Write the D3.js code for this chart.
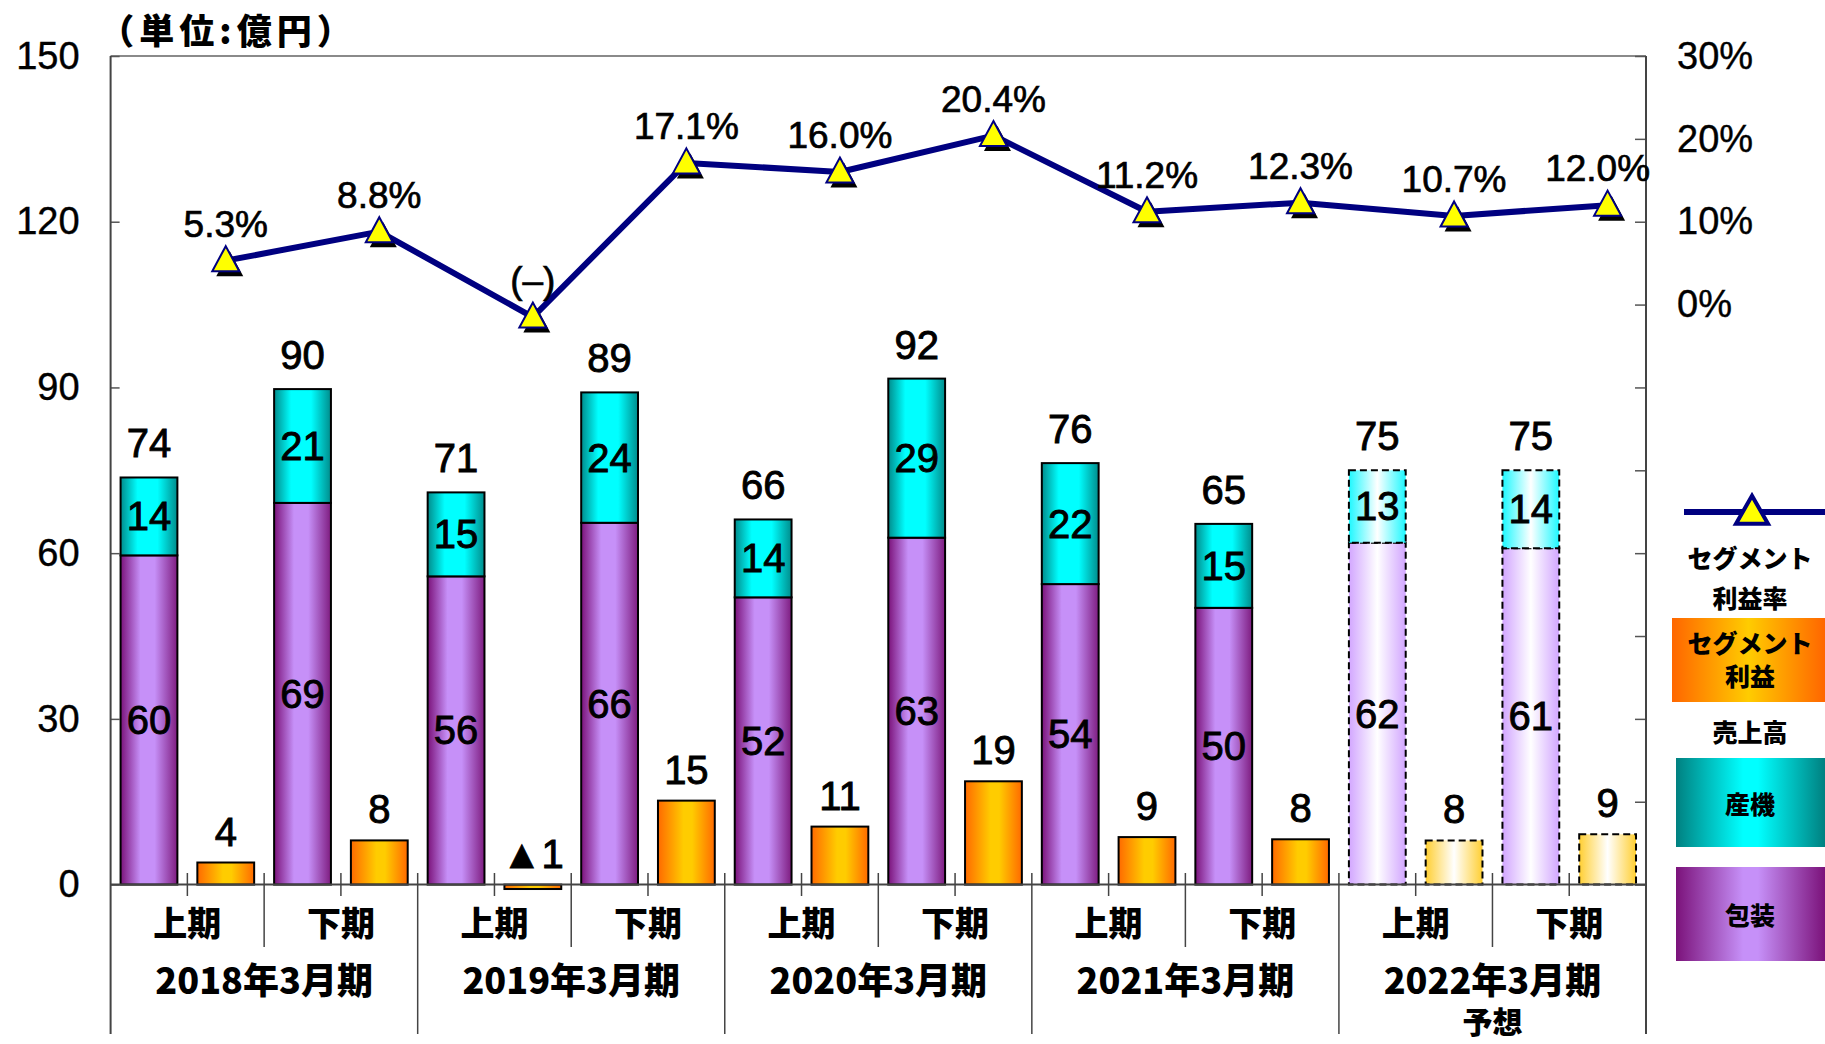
<!DOCTYPE html>
<html><head><meta charset="utf-8">
<script src="https://cdn.jsdelivr.net/npm/d3@7"></script>
<style>
html,body{margin:0;padding:0;background:#fff;}
svg{display:block;}
</style></head>
<body>
<script>
// ---- data ----
const halves = ["上期","下期","上期","下期","上期","下期","上期","下期","上期","下期"];
const years = ["2018年3月期","2019年3月期","2020年3月期","2021年3月期","2022年3月期"];
const yearNotes = ["","","","","予想"];
const packaging = [59.6, 69.1, 55.8, 65.5, 52.0, 62.8, 54.4, 50.1, 61.9, 60.9];   // 包装
const machinery = [14.1, 20.6, 15.2, 23.6, 14.1, 28.8, 21.9, 15.2, 13.1, 14.1];   // 産機
const profit = [4.0, 8.0, -0.8, 15.2, 10.5, 18.7, 8.6, 8.2, 8.0, 9.1];            // セグメント利益
const margin = [5.3, 8.8, -1.5, 17.1, 16.0, 20.4, 11.2, 12.3, 10.7, 12.0];        // セグメント利益率 (%)
const forecast = [false,false,false,false,false,false,false,false,true,true];
const leftTicks = [0,30,60,90,120,150];
const rightTicks = [-70,-60,-50,-40,-30,-20,-10,0,10,20,30];
const rightLabels = [0,10,20,30];

const W = 1825, H = 1044;
const NUM = "'Liberation Sans', Arial, sans-serif";
const JP = "'Noto Sans CJK JP', 'Liberation Sans', sans-serif";

const svg = d3.select("body").append("svg").attr("width", W).attr("height", H);
const defs = svg.append("defs");
function grad(id, stops){
  const g = defs.append("linearGradient").attr("id", id).attr("x1","0").attr("x2","1").attr("y1","0").attr("y2","0");
  stops.forEach(s => g.append("stop").attr("offset", s[0]).attr("stop-color", s[1]));
}
grad("gPurple", [["0%","#7b127a"],["35%","#c690f8"],["60%","#c690f8"],["100%","#7e1c80"]]);
grad("gTeal", [["0%","#008c8c"],["30%","#00ffff"],["65%","#00ffff"],["100%","#008c8c"]]);
grad("gOrange", [["0%","#ff6a00"],["45%","#ffcc00"],["60%","#ffcc00"],["100%","#ff6a00"]]);
grad("gPurpleF", [["0%","#d2a6ff"],["50%","#ffffff"],["100%","#d2a6ff"]]);
grad("gTealF", [["0%","#1ef8ff"],["50%","#ffffff"],["100%","#1ef8ff"]]);
grad("gOrangeF", [["0%","#ffcf33"],["50%","#ffffff"],["100%","#ffcf33"]]);
grad("gPurpleL", [["0%","#7b127a"],["45%","#c690f8"],["55%","#c690f8"],["100%","#7b127a"]]);
grad("gTealL", [["0%","#008080"],["45%","#00ffff"],["55%","#00ffff"],["100%","#008080"]]);
grad("gOrangeL", [["0%","#ff6600"],["50%","#ffcc00"],["100%","#ff6600"]]);

// ---- scales ----
const plotL = 110.6, plotR = 1646, plotT = 56, plotB = 884.6, catB = 1034;
const slots = [];
halves.forEach((h,i) => { slots.push(i+"s"); slots.push(i+"p"); });
const x = d3.scaleBand().domain(slots).range([plotL, plotR]).paddingInner(0.26).paddingOuter(0.13);
const y = d3.scaleLinear().domain([0,150]).range([plotB, plotT]);
const yR = d3.scaleLinear().domain([-70,30]).range([plotB, plotT]);

// ---- frame ----
svg.append("line").attr("x1", plotL).attr("x2", plotR).attr("y1", plotT).attr("y2", plotT)
  .attr("stroke", "#8a8a8a").attr("stroke-width", 2);

const axL = d3.axisLeft(y).tickValues(leftTicks).tickSizeInner(-9).tickSizeOuter(0).tickPadding(31);
const gL = svg.append("g").attr("transform", `translate(${plotL},0)`).call(axL);
gL.select(".domain").remove();
gL.selectAll(".tick line").attr("stroke", "#555").attr("stroke-width", 1.5);
gL.selectAll(".tick text").attr("font-family", NUM).attr("font-size", 38).attr("fill", "#000")
  .attr("stroke", "#000").attr("stroke-width", 0.4);

const axR = d3.axisRight(yR).tickValues(rightTicks).tickSizeInner(-11).tickSizeOuter(0).tickPadding(31)
  .tickFormat(d => rightLabels.includes(d) ? d + "%" : "");
const gR = svg.append("g").attr("transform", `translate(${plotR},0)`).call(axR);
gR.select(".domain").remove();
gR.selectAll(".tick line").attr("stroke", "#555").attr("stroke-width", 1.5);
gR.selectAll(".tick text").attr("font-family", NUM).attr("font-size", 38).attr("fill", "#000")
  .attr("stroke", "#000").attr("stroke-width", 0.4);

// vertical axis lines (extend through category area)
[plotL, plotR].forEach(xx => svg.append("line").attr("x1", xx).attr("x2", xx).attr("y1", plotT).attr("y2", catB)
  .attr("stroke", "#444").attr("stroke-width", 2));

// ---- bars ----
const bars = svg.append("g");
halves.forEach((h,i) => {
  const f = forecast[i];
  const xs = x(i+"s"), xp = x(i+"p"), bw = x.bandwidth();
  const dash = f ? "7,4" : null;
  bars.append("rect").attr("x", xs).attr("width", bw)
    .attr("y", y(packaging[i])).attr("height", y(0) - y(packaging[i]))
    .attr("fill", f ? "url(#gPurpleF)" : "url(#gPurple)").attr("stroke", "#000").attr("stroke-width", 2)
    .attr("stroke-dasharray", dash);
  const top = packaging[i] + machinery[i];
  bars.append("rect").attr("x", xs).attr("width", bw)
    .attr("y", y(top)).attr("height", y(packaging[i]) - y(top))
    .attr("fill", f ? "url(#gTealF)" : "url(#gTeal)").attr("stroke", "#000").attr("stroke-width", 2)
    .attr("stroke-dasharray", dash);
  const p = profit[i];
  bars.append("rect").attr("x", xp).attr("width", bw)
    .attr("y", y(Math.max(p,0))).attr("height", Math.abs(y(p) - y(0)))
    .attr("fill", f ? "url(#gOrangeF)" : "url(#gOrange)").attr("stroke", "#000").attr("stroke-width", 2)
    .attr("stroke-dasharray", dash);

  const lbl = (xx, yy, t) => svg.append("text").attr("x", xx).attr("y", yy).attr("text-anchor", "middle")
    .attr("font-family", NUM).attr("font-size", 40).attr("fill", "#000")
    .attr("stroke", "#000").attr("stroke-width", 0.9).text(t);
  const cs = xs + bw/2, cp = xp + bw/2;
  lbl(cs, y(top) - 20, Math.round(top));
  lbl(cs, (y(top) + y(packaging[i]))/2 + 14, Math.round(machinery[i]));
  lbl(cs, (y(packaging[i]) + y(0))/2 + 14, Math.round(packaging[i]));
  lbl(cp, y(Math.max(p,0)) - 17, p < 0 ? "▲" + Math.round(-p) : Math.round(p));
});

// baseline
svg.append("line").attr("x1", plotL).attr("x2", plotR).attr("y1", y(0)).attr("y2", y(0))
  .attr("stroke", "#444").attr("stroke-width", 2);

// ---- category separators & labels ----
const step = x.step();
for (let k = 1; k < 20; k++) {
  const xx = plotL + k*step;
  let y2 = 896;
  if (k % 4 === 0) y2 = catB; else if (k % 2 === 0) y2 = 947;
  svg.append("line").attr("x1", xx).attr("x2", xx).attr("y1", 873).attr("y2", y2)
    .attr("stroke", "#444").attr("stroke-width", 1.5);
}
halves.forEach((h,i) => {
  const cx = (x(i+"s") + x(i+"p") + x.bandwidth())/2;
  svg.append("text").attr("x", cx).attr("y", 921).attr("text-anchor", "middle").attr("dominant-baseline", "central")
    .attr("font-family", JP).attr("font-weight", 900).attr("font-size", 34).text(h);
});
years.forEach((t,j) => {
  const cx = plotL + (j*4 + 2)*step;
  svg.append("text").attr("x", cx).attr("y", 978).attr("text-anchor", "middle").attr("dominant-baseline", "central")
    .attr("font-family", JP).attr("font-weight", 900).attr("font-size", 36).text(t);
  if (yearNotes[j]) svg.append("text").attr("x", cx).attr("y", 1020).attr("text-anchor", "middle").attr("dominant-baseline", "central")
    .attr("font-family", JP).attr("font-weight", 900).attr("font-size", 30).text(yearNotes[j]);
});

// ---- line ----
const px = i => x(i+"p") + x.bandwidth()/2;
const line = d3.line().x((d,i) => px(i)).y(d => yR(d));
svg.append("path").datum(margin).attr("d", line).attr("fill", "none")
  .attr("stroke", "#000080").attr("stroke-width", 6).attr("stroke-linejoin", "round");
const tri = (cx, cy, w, h) => `M${cx},${cy - h*0.58}L${cx + w/2},${cy + h*0.42}L${cx - w/2},${cy + h*0.42}Z`;
margin.forEach((m,i) => {
  svg.append("path").attr("d", tri(px(i)+4, yR(m)+5, 27, 25)).attr("fill", "#000");
  svg.append("path").attr("d", tri(px(i), yR(m), 27, 25)).attr("fill", "#ffff00")
    .attr("stroke", "#000080").attr("stroke-width", 2);
  svg.append("text").attr("x", px(i) - (i === 9 ? 10 : 0)).attr("y", yR(m) - 24).attr("text-anchor", "middle")
    .attr("font-family", NUM).attr("font-size", 37).attr("fill", "#000").attr("stroke", "#000").attr("stroke-width", 0.7)
    .text(m < 0 ? "(–)" : m.toFixed(1) + "%");
});

// ---- unit title ----
svg.append("text").attr("x", 228).attr("y", 28).attr("text-anchor", "middle").attr("dominant-baseline", "central")
  .attr("font-family", JP).attr("font-weight", 900).attr("font-size", 35).attr("letter-spacing", 5).text("（単位:億円）");

// ---- legend ----
const lg = svg.append("g");
lg.append("line").attr("x1", 1684).attr("x2", 1825).attr("y1", 512).attr("y2", 512)
  .attr("stroke", "#000080").attr("stroke-width", 6);
lg.append("path").attr("d", tri(1752, 512, 32, 28)).attr("fill", "#ffff00").attr("stroke", "#000080").attr("stroke-width", 4);
const ltxt = (t, xx, yy) => lg.append("text").attr("x", xx).attr("y", yy).attr("text-anchor", "middle")
  .attr("dominant-baseline", "central").attr("font-family", JP).attr("font-weight", 900).attr("font-size", 25).text(t);
ltxt("セグメント", 1750, 557); ltxt("利益率", 1750, 597);
lg.append("rect").attr("x", 1672).attr("y", 618).attr("width", 153).attr("height", 84).attr("fill", "url(#gOrangeL)");
ltxt("セグメント", 1750, 642); ltxt("利益", 1750, 675);
ltxt("売上高", 1750, 731);
lg.append("rect").attr("x", 1676).attr("y", 758).attr("width", 149).attr("height", 89).attr("fill", "url(#gTealL)");
ltxt("産機", 1750, 803);
lg.append("rect").attr("x", 1676).attr("y", 867).attr("width", 149).attr("height", 94).attr("fill", "url(#gPurpleL)");
ltxt("包装", 1750, 914);
</script>
</body></html>
